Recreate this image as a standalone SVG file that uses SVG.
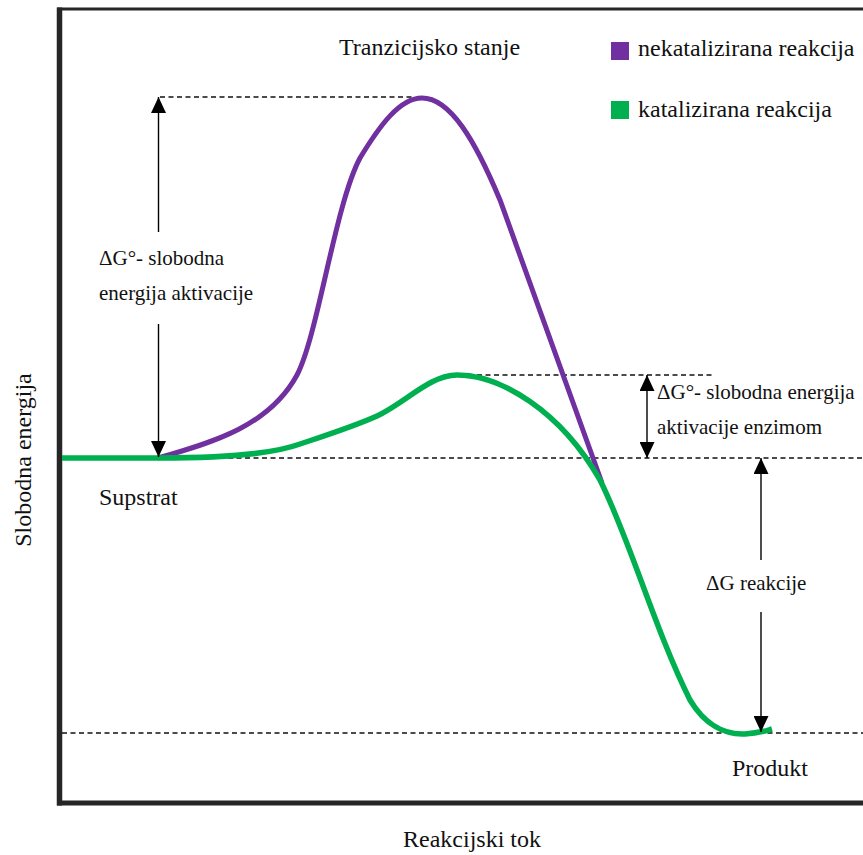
<svg xmlns="http://www.w3.org/2000/svg" width="863" height="855" viewBox="0 0 863 855">
<style>
.t{font-size:24px;fill:#111}
.s{font-size:21px;fill:#111}
.dash{stroke:#111;stroke-width:1.3;stroke-dasharray:5,3.5;fill:none}
.arr{stroke:#000;stroke-width:1.4;fill:none}
.frame{stroke:#262626;fill:none}
</style>
<defs>
<marker id="ah" markerUnits="userSpaceOnUse" markerWidth="16" markerHeight="15" refX="16" refY="7.5" orient="auto-start-reverse">
<path d="M0,0 L16,7.5 L0,15 z" fill="#000"/>
</marker>
</defs>
<rect width="863" height="855" fill="#fff"/>
<g id="frame">
<line class="frame" x1="57" y1="9" x2="863" y2="9" stroke-width="3"/>
<line class="frame" x1="59.5" y1="7.5" x2="59.5" y2="805.5" stroke-width="5.5"/>
<line class="frame" x1="57" y1="803" x2="863" y2="803" stroke-width="5"/>
</g>
<g id="guides">
<line class="dash" x1="160" y1="97" x2="412" y2="97"/>
<line class="dash" x1="460" y1="375" x2="712" y2="375"/>
<line class="dash" x1="160" y1="458" x2="863" y2="458"/>
<line class="dash" x1="62" y1="733" x2="863" y2="733"/>
</g>
<g id="curves">
<path id="uncatalyzed" d="M158,458 C215,442 270,425 297,375 C318,335 335,205 360,158 C380,125 400,98 422,98 C450,98 475,140 500,200 L602,483" fill="none" stroke="#7030A0" stroke-width="5"/>
<path id="catalyzed" d="M62,458 L160,458 C220,458 270,455 300,444 C330,434 355,426 377,416 C405,403 430,375 457,375 C500,375 560,410 600,480 C630,540 655,630 690,700 C705,725 725,735 745,734 C760,733 765,731 772,729" fill="none" stroke="#00B050" stroke-width="5.5"/>
</g>
<g id="connectors">
<line class="arr" x1="158.5" y1="232" x2="158.5" y2="97" marker-end="url(#ah)"/>
<line class="arr" x1="158.5" y1="324" x2="158.5" y2="457" marker-end="url(#ah)"/>
<line class="arr" x1="647" y1="375" x2="647" y2="458" marker-start="url(#ah)" marker-end="url(#ah)"/>
<line class="arr" x1="761" y1="560" x2="761" y2="458" marker-end="url(#ah)"/>
<line class="arr" x1="761" y1="612" x2="761" y2="732" marker-end="url(#ah)"/>
</g>
<g font-family="'Liberation Serif', 'Times New Roman', Times, serif">
<g id="legend">
<rect x="611" y="42" width="18" height="18" fill="#7030A0"/>
<text class="t" x="638" y="56">nekatalizirana reakcija</text>
<rect x="611" y="101" width="18" height="18" fill="#00B050"/>
<text class="t" x="638" y="117">katalizirana reakcija</text>
</g>
<g id="labels">
<text class="t" x="339" y="55">Tranzicijsko stanje</text>
<text class="s" x="99" y="265">ΔG°- slobodna</text>
<text class="s" x="99" y="300">energija aktivacije</text>
<text class="s" x="657" y="399">ΔG°- slobodna energija</text>
<text class="s" x="657" y="434">aktivacije enzimom</text>
<text class="s" x="706" y="590">ΔG reakcije</text>
<text class="t" x="99" y="505">Supstrat</text>
<text class="t" x="732" y="776">Produkt</text>
<text class="t" x="403" y="847">Reakcijski tok</text>
<text class="t" text-anchor="middle" transform="translate(31,460) rotate(-90)">Slobodna energija</text>
</g>
</g>
</svg>
